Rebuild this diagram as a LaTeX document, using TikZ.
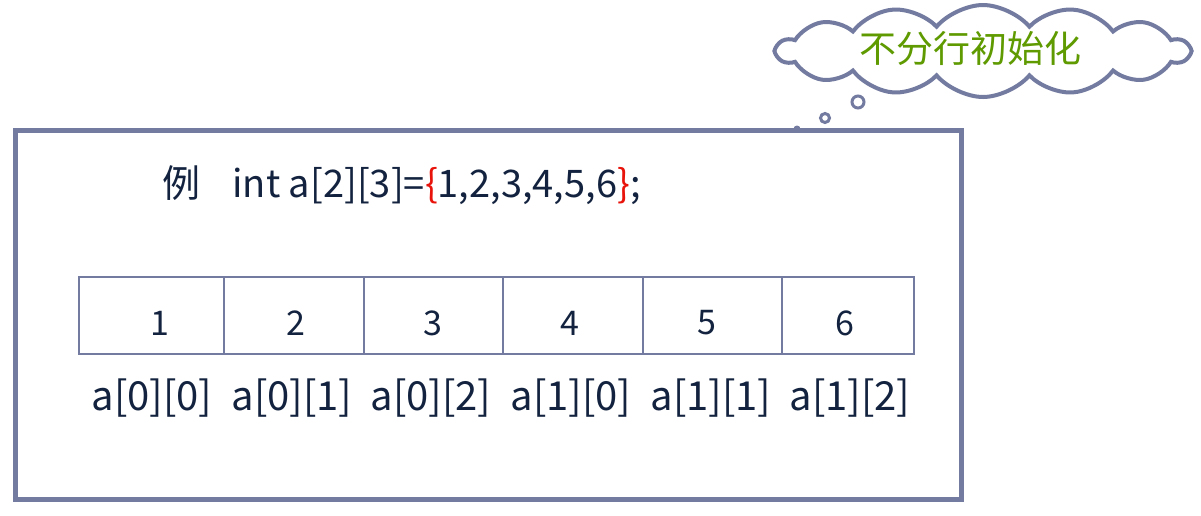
\documentclass[tikz,border=0pt]{standalone}
\usepackage{fontspec}
\setmainfont{Noto Sans CJK SC}
\usetikzlibrary{shapes.symbols}
\definecolor{frame}{HTML}{737BA0}
\definecolor{ink}{HTML}{13233F}
\definecolor{cloudtxt}{HTML}{5E9A00}
\definecolor{brace}{HTML}{E8140C}
\begin{document}
\begin{tikzpicture}[x=1pt,y=-1pt,
  cellbox/.style={draw=frame,line width=2.2pt,minimum height=77pt,inner sep=0pt,anchor=north west,text depth=0pt},
  lbl/.style={text=ink,font=\fontsize{40}{46}\selectfont,inner sep=0pt},
  hd/.style={text=ink,font=\fontsize{38}{44}\selectfont,inner sep=0pt},
  num/.style={text=ink,font=\fontsize{34}{40}\selectfont,inner sep=0pt}]
\useasboundingbox (0,0) rectangle (1201,515);
\draw[frame,line width=5pt] (15.5,130.5) rectangle (961,499);
% heading
\node[hd,anchor=west] (head) at (162,185) {例\hspace{0.85em}int a[2][3]=\textcolor{brace}{\{}1,2,3,4,5,6\textcolor{brace}{\}};};
% cells
\foreach \i/\x/\w/\v/\nx in {0/78/145/1/160,1/223/140/2/296,2/363/139/3/433,3/502/140/4/570,4/642/139/5/707,5/781/132/6/845}{
  \node[cellbox,minimum width=\w pt] (c\i) at (\x,276) {};
  \node[num] (n\i) at (\nx,323) {\v};
}
\node[lbl] (l0) at (152,398) {a[0][0]};
\node[lbl] (l1) at (292,398) {a[0][1]};
\node[lbl] (l2) at (431,398) {a[0][2]};
\node[lbl] (l3) at (571,398) {a[1][0]};
\node[lbl] (l4) at (711,398) {a[1][1]};
\node[lbl] (l5) at (850,398) {a[1][2]};
% cloud
\node[cloud,cloud puffs=14,cloud puff arc=100,aspect=4.3,draw=frame,line width=4pt,fill=white,
  minimum width=412pt,minimum height=92pt,inner sep=0pt] (cl) at (983,51) {};
\node[text=cloudtxt,font=\fontsize{37}{42}\selectfont,inner sep=0pt] (ct) at (970,48) {不分行初始化};
\node[circle,draw=frame,line width=3pt,minimum size=12pt,inner sep=0pt] (b1) at (858,102) {};
\node[circle,draw=frame,line width=3pt,minimum size=9pt,inner sep=0pt] (b2) at (825,118) {};
\node[circle,fill=frame,minimum size=7pt,inner sep=0pt] (b3) at (797,129) {};
\end{tikzpicture}
\end{document}
